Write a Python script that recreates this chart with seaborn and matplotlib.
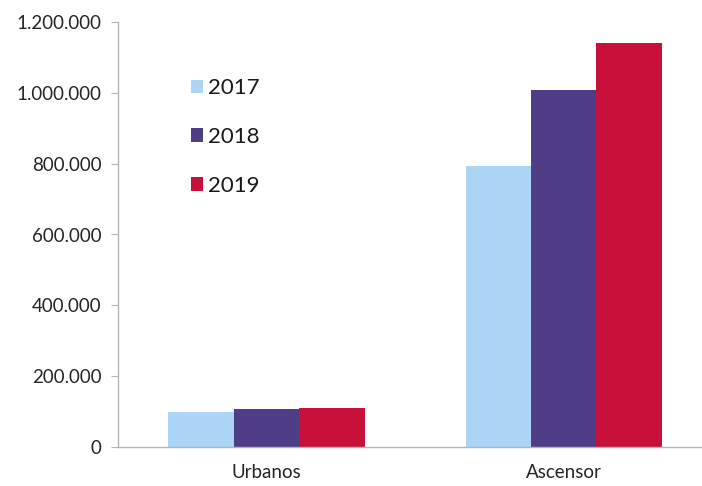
import matplotlib
import numpy as np
import pandas as pd
import seaborn as sns
from matplotlib import pyplot as plt
from matplotlib.patches import Patch
from matplotlib.ticker import FuncFormatter, MultipleLocator

categories = ["Urbanos", "Ascensor"]
years = ["2017", "2018", "2019"]
values_2017 = [100000, 794000]
values_2018 = [106000, 1008000]
values_2019 = [110000, 1142000]
colors = ["#abd4f5", "#4f3e87", "#c8113a"]

sns.set_style("white")
matplotlib.rcParams["font.family"] = ["Lato", "DejaVu Sans"]

df = pd.DataFrame(
    {
        "categoria": categories * 3,
        "year": np.repeat(years, len(categories)),
        "value": values_2017 + values_2018 + values_2019,
    }
)

fig = plt.figure(figsize=(7.02, 4.86), dpi=100)
ax = fig.add_axes([118 / 702, 39 / 486, 584 / 702, 425 / 486])

sns.barplot(
    data=df,
    x="categoria",
    y="value",
    hue="year",
    order=categories,
    hue_order=years,
    palette=colors,
    saturation=1,
    width=0.66,
    linewidth=0,
    ax=ax,
    legend=False,
)

ax.set_ylim(0, 1200000)
ax.set_xlim(-0.5, 1.466)
ax.yaxis.set_major_locator(MultipleLocator(200000))
ax.yaxis.set_major_formatter(
    FuncFormatter(lambda v, _: f"{int(v):,}".replace(",", "."))
)
ax.set_xlabel("")
ax.set_ylabel("")

for side in ["top", "right"]:
    ax.spines[side].set_visible(False)
for side in ["left", "bottom"]:
    ax.spines[side].set_color("#b5b5b5")
    ax.spines[side].set_linewidth(1.0)

ax.tick_params(axis="y", length=5, color="#b5b5b5", pad=7, labelsize=13.5,
               labelcolor="#262626", left=True)
ax.tick_params(axis="x", length=0, pad=12, labelsize=13.5, labelcolor="#262626")

handles = [Patch(facecolor=c, edgecolor="none") for c in colors]
ax.legend(
    handles,
    years,
    loc="upper left",
    bbox_to_anchor=(0.09, 0.915),
    frameon=False,
    fontsize=16,
    handlelength=0.55,
    handleheight=0.55,
    handletextpad=0.25,
    labelspacing=1.3,
    labelcolor="#1a1a1a",
)

fig.savefig("out.png", dpi=100)
